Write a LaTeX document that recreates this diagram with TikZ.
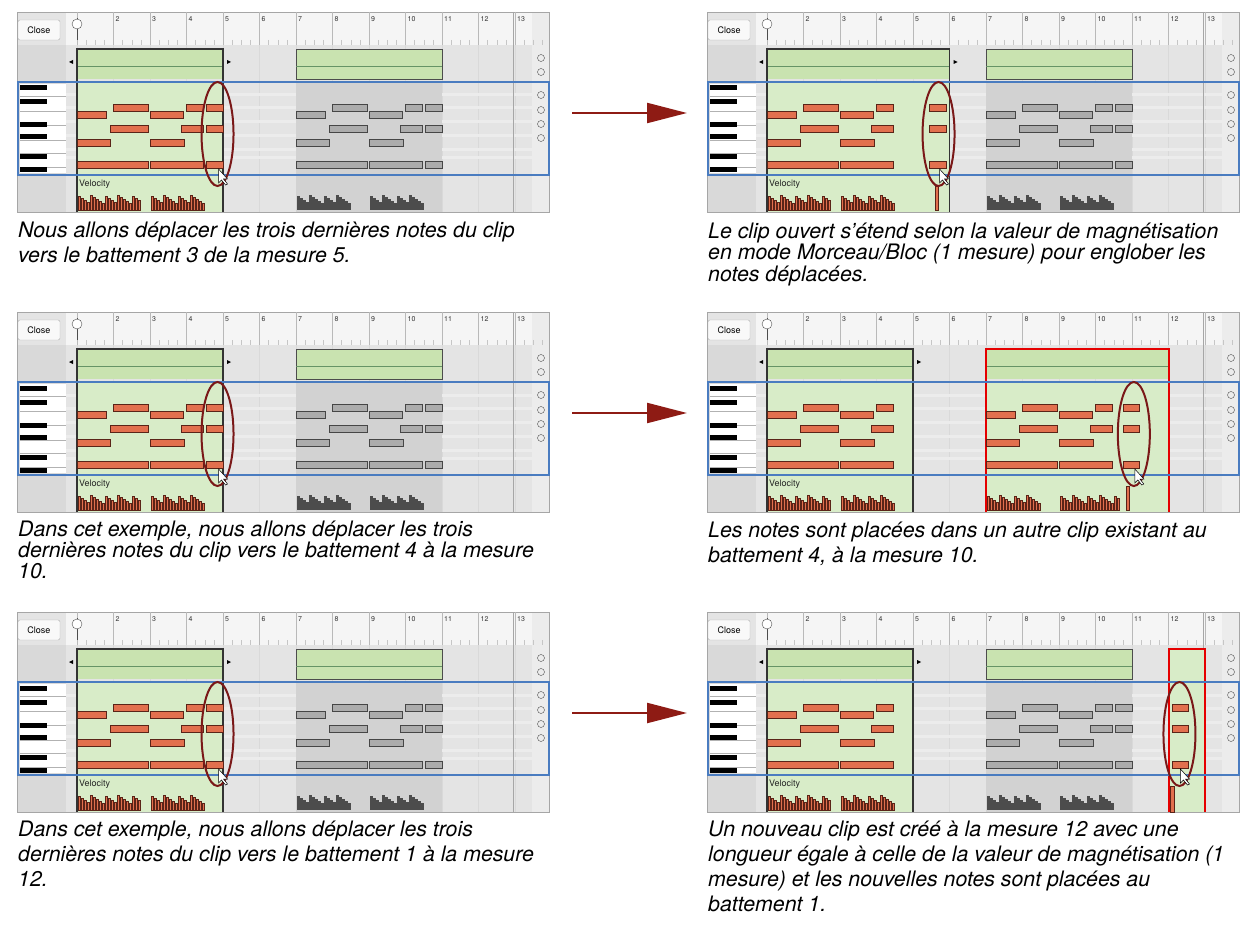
\documentclass[tikz,border=0pt]{standalone}
\usepackage{fontspec}
\setmainfont{TeX Gyre Heros}
\usetikzlibrary{arrows.meta}
\definecolor{notered}{HTML}{E2704E}
\definecolor{notedark}{HTML}{5A2418}
\definecolor{clipgreen}{HTML}{D8ECC8}
\definecolor{lanegreen}{HTML}{C9E3B0}
\definecolor{bluebox}{HTML}{4A7CC0}
\definecolor{ellred}{HTML}{7A1818}
\definecolor{arrred}{HTML}{8E1B14}
\definecolor{bggray}{HTML}{E4E4E4}
\tikzset{
  note/.style={fill=notered,draw=notedark,line width=0.6pt},
  gnote/.style={fill=gray!65,draw=gray!55!black,line width=0.6pt},
  clipedge/.style={draw=black!80,line width=1.6pt},
  rededge/.style={draw=red!90!black,line width=2pt},
  ell/.style={draw=ellred,line width=2pt},
  captxt/.style={anchor=north west,inner sep=0pt,align=left,font=\itshape\fontsize{21.3}{25}\selectfont},
  captight/.style={captxt,font=\itshape\fontsize{21.3}{16.5}\selectfont},
  bigarrow/.style={draw=arrred,line width=2.2pt,-{Triangle[length=40pt,width=20pt]}},
  declare function={mx(\a)=77+(\a-1)*36.5;}
}
\newcommand\nt[4]{\path[#1] ({mx(#2)},{#4-3.5}) rectangle ({mx(#3)},{#4+3.5});}
\newcommand\patbase[2]{%
  \nt{#1}{2+#2}{2.95+#2}{108}\nt{#1}{4+#2}{4.45+#2}{108}%
  \nt{#1}{1+#2}{1.8+#2}{115}\nt{#1}{3+#2}{3.9+#2}{115}%
  \nt{#1}{1.9+#2}{2.95+#2}{129}\nt{#1}{3.85+#2}{4.45+#2}{129}%
  \nt{#1}{1+#2}{1.9+#2}{143}\nt{#1}{3+#2}{3.95+#2}{143}%
  \nt{#1}{1+#2}{2.95+#2}{165}\nt{#1}{3+#2}{4.45+#2}{165}}
\newcommand\patmoved[2]{\nt{#1}{#2}{#2+0.45}{108}\nt{#1}{#2}{#2+0.45}{129}\nt{#1}{#2}{#2+0.45}{165}}
\newcommand\velbars[3]{%
  \foreach \i in {1,...,#3}{\path[#1] ({mx(#2)+1+(\i-1)*3},{210-7-mod(\i*7,9)}) rectangle ++(2.6,{7+mod(\i*7,9)});}}
\newcommand\ellip[2]{\draw[ell] ({mx(#1)},#2) ellipse [x radius=16,y radius=52];
  \path[fill=white,draw=black,line width=0.5pt] ({mx(#1)+1},{#2+35}) -- ++(0,14) -- ++(3,-3) -- ++(4,5) -- ++(2,-1) -- ++(-4,-5) -- ++(4,0) -- cycle;}
\newcommand\panelbase{%
  \fill[bggray] (17,12) rectangle (549,212);
  \fill[gray!30] (17,45) rectangle (66,212);
  \fill[gray!8] (66,12) rectangle (532,45);
  \fill[gray!15] (532,12) rectangle (549,212);
  \draw[gray!70] (17,12) rectangle (549,212);
  \draw[gray!60,rounded corners=2pt,fill=gray!5] (18,20) rectangle (60,40);
  \node[inner sep=0,font=\fontsize{9}{9}\selectfont] at (39,30) {Close};
  \foreach \k in {1,...,13}{
    \draw[gray!55] ({mx(\k)},12) -- ({mx(\k)},45);
    \draw[gray!30] ({mx(\k)},45) -- ({mx(\k)},212);
    \foreach \b in {0.25,0.5,0.75}{\draw[gray!45] ({mx(\k+\b)},40) -- ({mx(\k+\b)},45);}
  }
  \foreach \k in {2,...,13}{\node[anchor=north west,inner sep=0,font=\fontsize{7}{7}\selectfont,gray!40!black] at ({mx(\k)+2},16) {\k};}
  \foreach \yy in {95,108,122,136,150,158}{\draw[white!85!gray,line width=3pt] (66,\yy) -- (532,\yy);}
  \draw[gray!70,line width=1pt] (513,12) -- (513,212);
  \draw[gray!60!black,line width=0.8pt] (77,18) -- (77,40);
  \draw[gray!60!black,fill=white] (77,24) circle (5);
  \fill[white] (20,84) rectangle (66,173);
  \foreach \yy in {96,111,125,140,153,167}{\draw[gray!60] (20,\yy) -- (66,\yy);}
  \foreach \yy in {88,102,125,137,157,170}{\fill[black] (20,{\yy-2.5}) rectangle (47,{\yy+2.5});}
  \foreach \yy in {58,72,95,110,124,138}{\draw[gray!60!black] (541,\yy) circle (3.5);}
}
\newcommand\clipA[1]{%
  \fill[clipgreen] ({mx(1)},82) rectangle ({mx(#1)},212);
  \fill[lanegreen] ({mx(1)},49) rectangle ({mx(#1)},79);
  \draw[green!30!black!60] ({mx(1)},66) -- ({mx(#1)},66);
  \draw[clipedge] ({mx(1)},212) -- ({mx(1)},49) -- ({mx(#1)},49) -- ({mx(#1)},212);
  \fill[black] ({mx(1)-4},64) -- ++(0,-4) -- ++(-4,2) -- cycle;
  \fill[black] ({mx(#1)+4},64) -- ++(0,-4) -- ++(4,2) -- cycle;
  \node[anchor=west,inner sep=0,font=\fontsize{9}{9}\selectfont,gray!30!black] at ({mx(1)+2},184) {Velocity};}
\newcommand\clipG{%
  \fill[gray!35] ({mx(7)},82) rectangle ({mx(11)},212);
  \fill[lanegreen] ({mx(7)},49) rectangle ({mx(11)},79);
  \draw[gray!60!black] ({mx(7)},49) rectangle ({mx(11)},79);
  \draw[green!30!black!60] ({mx(7)},66) -- ({mx(11)},66);
  \patbase{gnote}{6}\patmoved{gnote}{10.55}
  \velbars{fill=gray!60!black}{7}{18}\velbars{fill=gray!60!black}{9}{18}}
\newcommand\bluebox{\draw[bluebox,line width=1.6pt] (18,82) rectangle (549,175);}
\newcommand\leftpanel{%
  \panelbase\clipA{5}\clipG
  \patbase{note}{0}\patmoved{note}{4.55}
  \velbars{note}{1}{21}\velbars{note}{3}{18}
  \bluebox\ellip{4.85}{134}}
\begin{document}
\begin{tikzpicture}[x=1pt,y=-1pt]
\useasboundingbox (0,0) rectangle (1251,931);
\fill[white] (0,0) rectangle (1251,931);
\begin{scope}\leftpanel\end{scope}
\begin{scope}[shift={(0,300)}]\leftpanel\end{scope}
\begin{scope}[shift={(0,600)}]\leftpanel\end{scope}
\begin{scope}[shift={(690,0)}]
  \panelbase\clipA{6}\clipG
  \patbase{note}{0}\patmoved{note}{5.45}
  \velbars{note}{1}{21}\velbars{note}{3}{18}
  \path[note] ({mx(5.6)},186) rectangle ({mx(5.68)},210);
  \bluebox\ellip{5.7}{134}
\end{scope}
\begin{scope}[shift={(690,300)}]
  \panelbase\clipA{5}
  \fill[clipgreen] ({mx(7)},82) rectangle ({mx(12)},212);
  \fill[lanegreen] ({mx(7)},49) rectangle ({mx(12)},79);
  \draw[green!30!black!60] ({mx(7)},66) -- ({mx(12)},66);
  \draw[rededge] ({mx(7)},212) -- ({mx(7)},49) -- ({mx(12)},49) -- ({mx(12)},212);
  \patbase{note}{0}
  \patbase{note}{6}\patmoved{note}{10.75}
  \velbars{note}{1}{21}\velbars{note}{3}{18}
  \velbars{note}{7}{18}\velbars{note}{9}{20}
  \path[note] ({mx(10.85)},186) rectangle ({mx(10.93)},210);
  \bluebox\ellip{11.05}{134}
\end{scope}
\begin{scope}[shift={(690,600)}]
  \panelbase\clipA{5}\clipG
  \fill[clipgreen] ({mx(12)},49) rectangle ({mx(13)},212);
  \draw[rededge] ({mx(12)},212) -- ({mx(12)},49) -- ({mx(13)},49) -- ({mx(13)},212);
  \patbase{note}{0}\patmoved{note}{12.1}
  \velbars{note}{1}{21}\velbars{note}{3}{18}
  \path[note] ({mx(12.05)},186) rectangle ({mx(12.15)},212);
  \bluebox\ellip{12.3}{134}
\end{scope}
\foreach \yy [count=\n] in {113,413,713}{
  \coordinate (a\n) at (572,\yy); \coordinate (b\n) at (687,\yy);
  \draw[bigarrow] (a\n) -- (b\n);}
\node[captxt] (c1) at (18,222) {Nous allons déplacer les trois dernières notes du clip\\vers le battement 3 de la mesure 5.};
\node[captight] (c2) at (18,521) {Dans cet exemple, nous allons déplacer les trois\\dernières notes du clip vers le battement 4 à la mesure\\10.};
\node[captxt] (c3) at (18,821) {Dans cet exemple, nous allons déplacer les trois\\dernières notes du clip vers le battement 1 à la mesure\\12.};
\node[captight] (c4) at (708,223) {Le clip ouvert s'étend selon la valeur de magnétisation\\en mode Morceau/Bloc (1 mesure) pour englober les\\notes déplacées.};
\node[captxt] (c5) at (708,522) {Les notes sont placées dans un autre clip existant au\\battement 4, à la mesure 10.};
\node[captxt] (c6) at (708,821) {Un nouveau clip est créé à la mesure 12 avec une\\longueur égale à celle de la valeur de magnétisation (1\\mesure) et les nouvelles notes sont placées au\\battement 1.};
\end{tikzpicture}
\end{document}
